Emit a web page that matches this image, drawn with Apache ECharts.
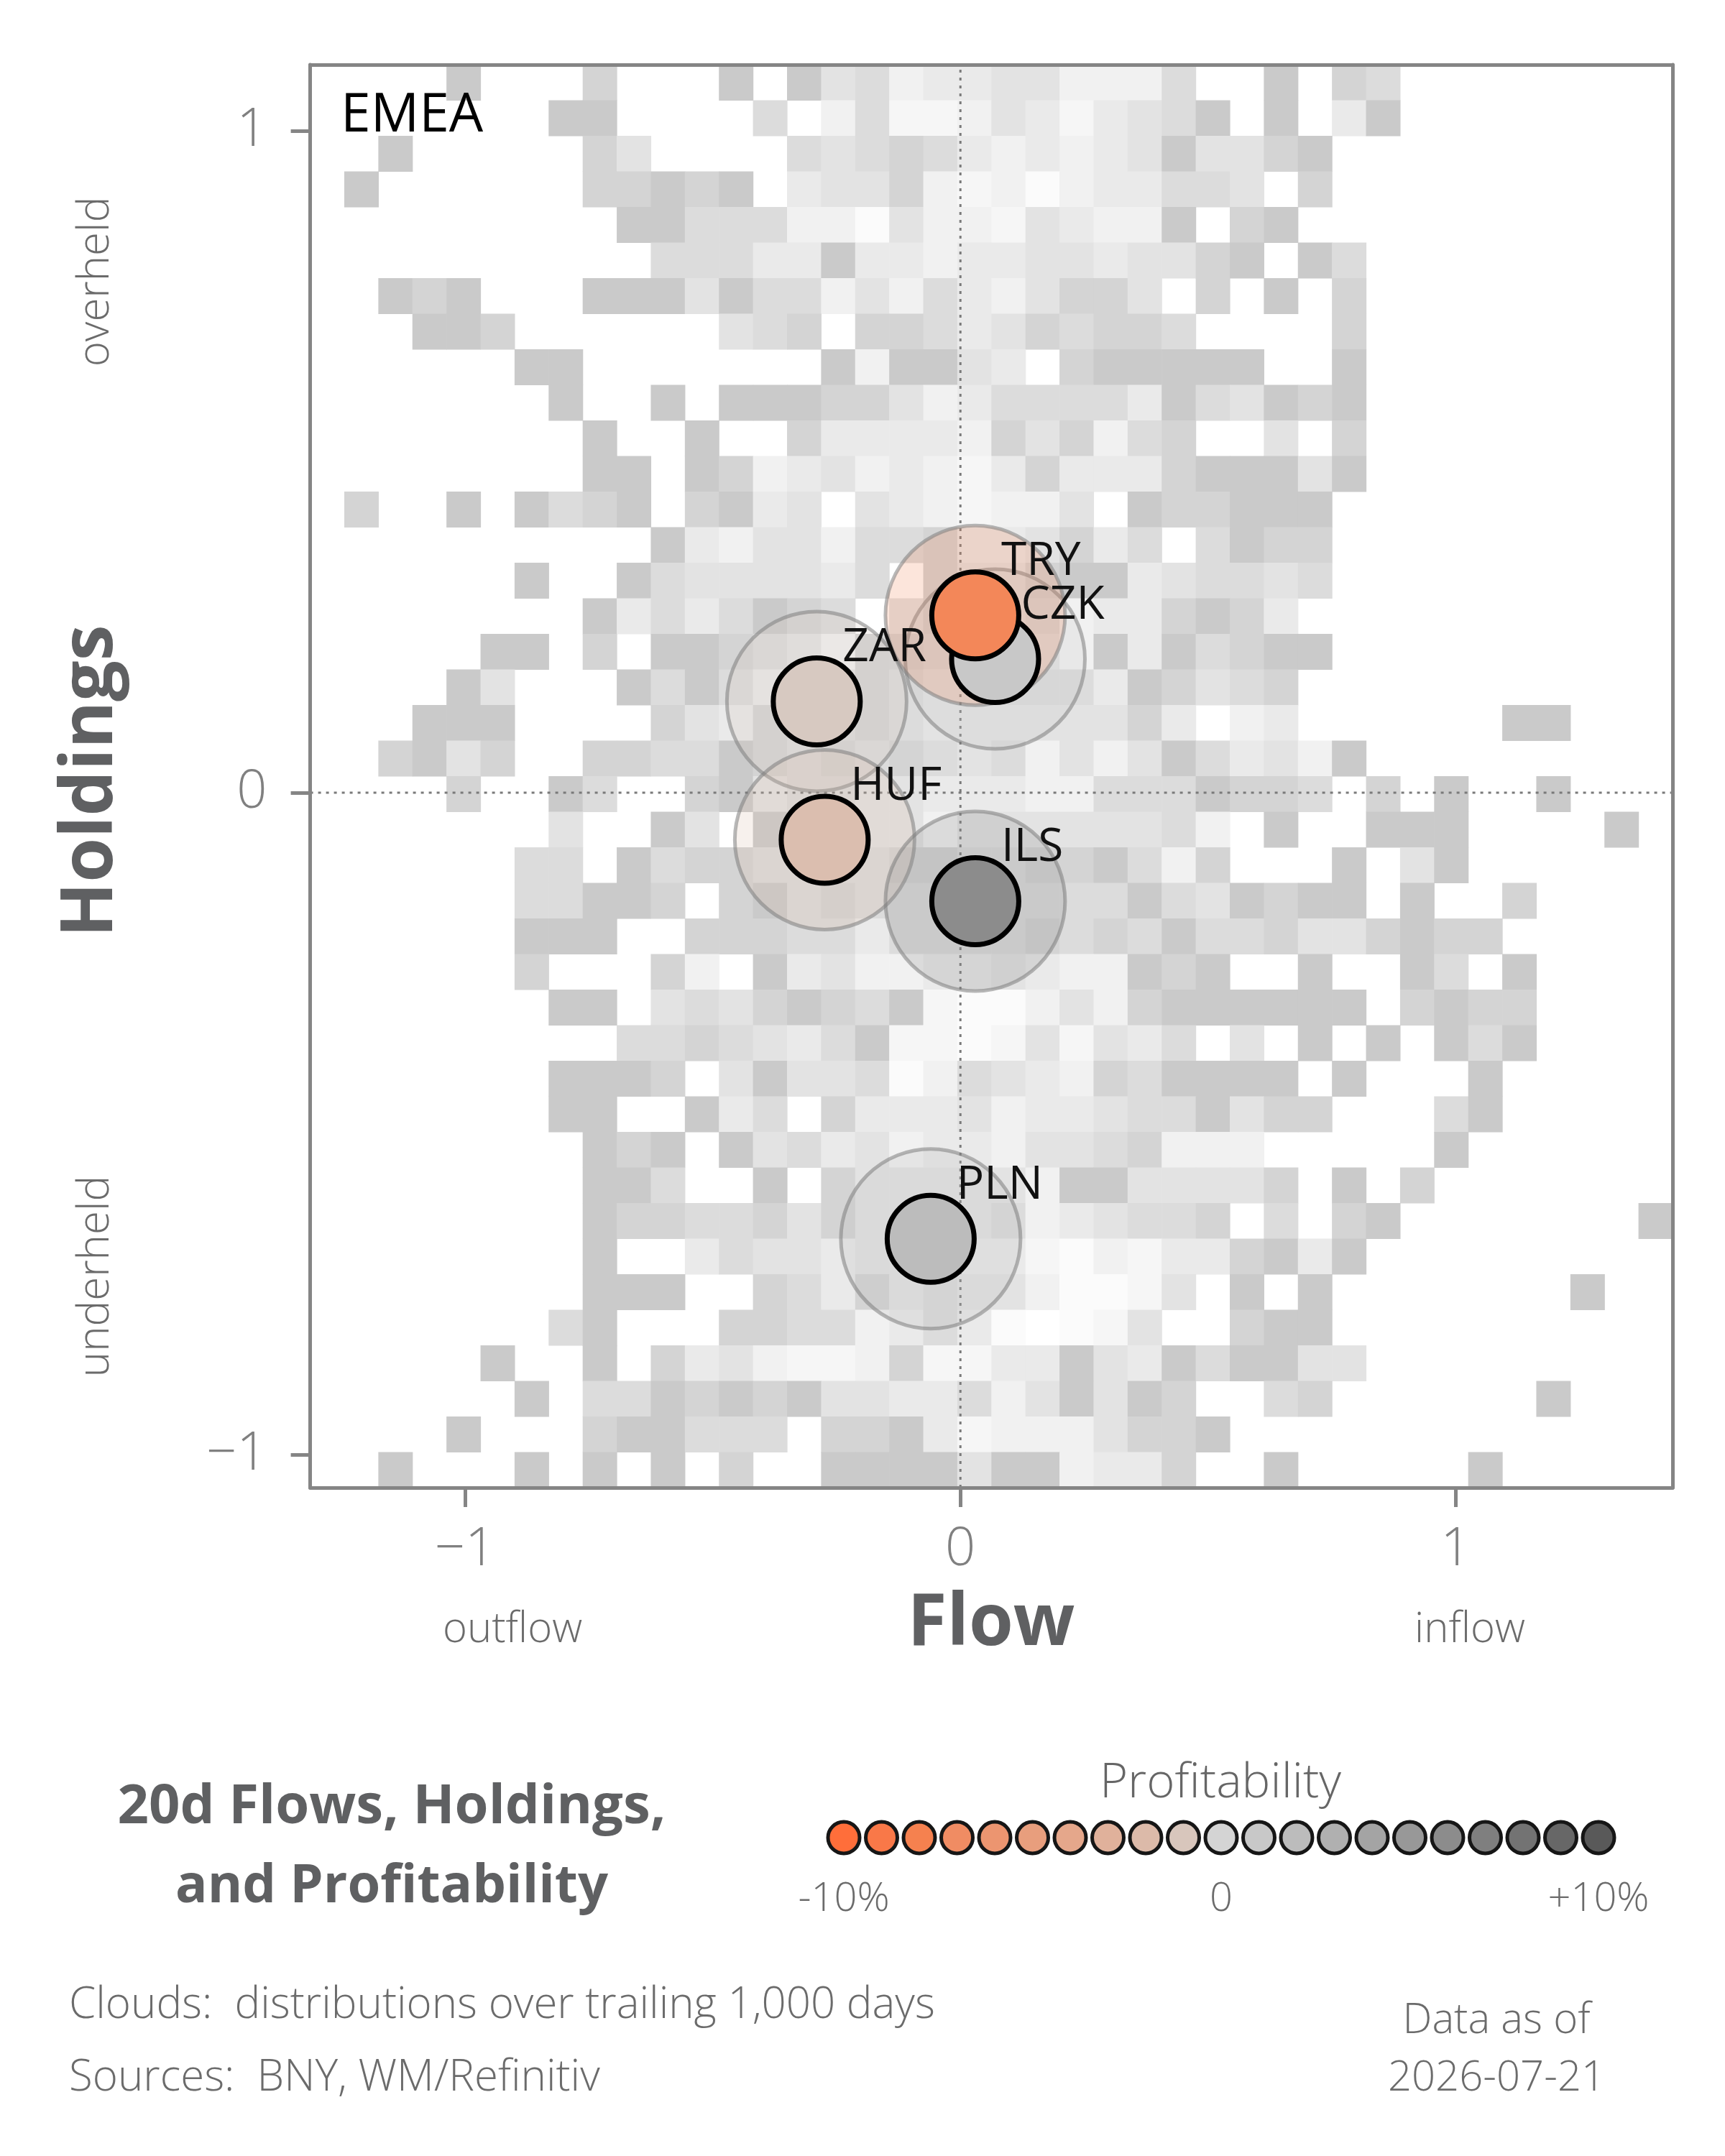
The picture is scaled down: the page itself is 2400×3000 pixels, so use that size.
<!DOCTYPE html>
<html>
<head>
<meta charset="utf-8">
<title>EMEA flows, holdings and profitability</title>
<script src="https://cdn.jsdelivr.net/npm/echarts@6/dist/echarts.min.js"></script>
<style>
  html, body { margin: 0; padding: 0; background: #fff; }
  #chart { width: 2400px; height: 3000px; }
</style>
</head>
<body>
<div id="chart"></div>
<script>
// currencies (drawn in this order, TRY last so it sits on top of CZK)
var currencies = ['ZAR', 'HUF', 'ILS', 'PLN', 'CZK', 'TRY'];
var flows      = [-0.290, -0.274, 0.030, -0.060, 0.070, 0.030];
var holdings   = [0.138, -0.071, -0.164, -0.674, 0.202, 0.268];
var profit     = [-0.8, -1.7, 6, 2, 1, -7.5];   // 20d profitability, %

// profitability legend
var profitSteps = [-10, -9, -8, -7, -6, -5, -4, -3, -2, -1, 0, 1, 2, 3, 4, 5, 6, 7, 8, 9, 10];

var flowTicks = [-1, 0, 1];
var holdingTicks = [-1, 0, 1];

// clouds: 40 x 40 bins over trailing 1,000 days, shade level per bin ('.' = empty)
var cloudFlowStart = -1.3125, cloudFlowStep = 0.06875;
var cloudHoldStart = 1.1, cloudHoldStep = 0.05375;
var cloudRows = [
  '....1...2. ..1.143655 446663..1. 23........',
  '.......11. ...3.63776 4575431.1. 51........',
  '..1.....24 ....343235 6565414421 ..........',
  '.1......22 121.544267 68655334.2 ..........',
  '.........1 1333668466 745661.21. ..........',
  '.......... 3335515565 54454421.1 3.........',
  '..121...11 1413364635 64224.2.1. 2.........',
  '...112.... ..432.2235 423223.... 2.........',
  '......11.. .....16114 5.211111.. 1.........',
  '.......1.. 1.11122465 3333513412 1.........',
  '........1. .1..255556 242632..4. 2.........',
  '........11 .126546567 5255521114 1.........',
  '.2..1.1321 .2154.4567 664.122111 ..........',
  '.......... 1564463325 54253.3122 ..........',
  '......1..1 3444453.24 4211543343 ..........',
  '........15 353123.424 436552125. ..........',
  '.....11.2. 1123462233 4461513211 ..........',
  '....14...1 3135442344 333512432. ..........',
  '...111.... 2452332344 444425.65. .....11...',
  '..2142..22 3312323234 3646413546 1.........',
  '....2..13. .214334455 5663331223 .2.1..1...',
  '.......4.. 14.1334464 4444436.1. .111....1.',
  '......33.1 3223333223 3221362... 1.41......',
  '......3311 2.21323333 3333134121 1.1..2....',
  '......111. .222335333 3232313324 42122.....',
  '......2... 26.1546655 4566121..1 ..13.1....',
  '.......11. 4342123178 8646211111 1.2122....',
  '.........3 3234531778 747453.4.1 .1.131....',
  '.......111 2.41443863 456231111. 1...1.....',
  '.......11. .153.25554 6554331422 ...31.....',
  '........12 1.14354655 64432666.. ...1......',
  '........11 3..1.24444 461144442. 1.2.......',
  '........12 2332424444 3654332.3. 21.......1',
  '........1. .534454445 5786755215 1.........',
  '........11 1..2352434 468874.1.1 .......1..',
  '.......31. ..22336535 8.874..211 ..........',
  '.....1..1. 2546776277 5514513114 4.........',
  '......1.33 1212144553 641412..32 ......1...',
  '....1...21 1333.22157 6664221... ..........',
  '..1...1.1. 1.2..11114 116552..1. ....1.....'
];

// styles
var shadeColors = ['#cacaca', '#d4d4d4', '#dcdcdc', '#e3e3e3', '#eaeaea', '#f1f1f1', '#f6f6f6', '#fbfbfb'];
var profitColors = ['#ff6e3a', '#f97848', '#f5814f', '#f08c63', '#ec9570', '#e89e7d', '#e5a78b', '#e0b19b',
  '#dcbaa9', '#d8c6bc', '#d4d4d4', '#c8c8c8', '#bcbcbc', '#b0b0b0', '#a4a4a4', '#989898', '#8c8c8c',
  '#7f7f7f', '#737373', '#676767', '#595959'];
var FONT = '"Open Sans", Lato, "Noto Sans", sans-serif';
var AXIS_GRAY = '#858585';

function hexToRgb(h) {
  return [parseInt(h.slice(1, 3), 16), parseInt(h.slice(3, 5), 16), parseInt(h.slice(5, 7), 16)];
}
function profitColor(p, alpha) {
  var t = Math.max(0, Math.min(profitSteps.length - 1, p - profitSteps[0]));
  var i = Math.min(Math.floor(t), profitSteps.length - 2), f = t - i;
  var a = hexToRgb(profitColors[i]), b = hexToRgb(profitColors[i + 1]);
  var c = a.map(function (v, k) { return Math.round(v + (b[k] - v) * f); });
  return 'rgba(' + c.join(',') + ',' + (alpha == null ? 1 : alpha) + ')';
}

// build cloud cells [x0, yTop, x1, yBottom, level]
var cloudData = [];
cloudRows.forEach(function (row, r) {
  var s = row.replace(/ /g, '');
  for (var c = 0; c < s.length; c++) {
    var lv = s.charAt(c);
    if (lv === '.') continue;
    var x0 = cloudFlowStart + c * cloudFlowStep;
    var y0 = cloudHoldStart - r * cloudHoldStep;
    cloudData.push([x0, y0, x0 + cloudFlowStep, y0 - cloudHoldStep, +lv]);
  }
});

var haloData = currencies.map(function (c, i) {
  return { name: c, value: [flows[i], holdings[i], profit[i]],
    itemStyle: { color: profitColor(profit[i], 0.22) } };
});
var dotData = currencies.map(function (c, i) {
  return { name: c, value: [flows[i], holdings[i], profit[i]],
    itemStyle: { color: profitColor(profit[i]) } };
});
var legendData = profitSteps.map(function (p) {
  return { value: [p, 0.5], itemStyle: { color: profitColor(p) } };
});

var X_MIN = -1.3125, X_MAX = 1.4375, Y_MIN = -1.05, Y_MAX = 1.1;

function minusFmt(v) { return v < 0 ? '\u2212' + Math.abs(v) : String(v); }

function txt(text, x, y, size, fill, extra) {
  var style = { text: text, fontSize: size, fill: fill, fontFamily: FONT, fontWeight: 300,
    align: 'center', verticalAlign: 'middle' };
  var el = { type: 'text', x: x, y: y, z: 20, style: style };
  if (extra) {
    Object.keys(extra).forEach(function (k) {
      if (k === 'rotation') el.rotation = extra[k]; else style[k] = extra[k];
    });
  }
  return el;
}

var chart = echarts.init(document.getElementById('chart'), null, { renderer: 'canvas' });

var option = {
  animation: false,
  backgroundColor: '#ffffff',
  textStyle: { fontFamily: FONT },
  grid: [
    { left: 431.6, top: 90, width: 1895.4, height: 1980 },
    { left: 1174, top: 2532, width: 1050, height: 50 }
  ],
  xAxis: [
    {
      type: 'value', gridIndex: 0, min: X_MIN, max: X_MAX, z: 10,
      axisLine: { show: true, onZero: false, lineStyle: { color: AXIS_GRAY, width: 5 } },
      axisTick: { show: true, length: 27, customValues: flowTicks, lineStyle: { color: AXIS_GRAY, width: 5 } },
      axisLabel: { customValues: flowTicks, formatter: minusFmt, fontSize: 74, color: '#808080',
        margin: 50, fontFamily: FONT, fontWeight: 300 },
      splitLine: { show: false }
    },
    {
      type: 'value', gridIndex: 0, position: 'top', min: X_MIN, max: X_MAX, z: 10,
      axisLine: { show: true, onZero: false, lineStyle: { color: AXIS_GRAY, width: 5 } },
      axisTick: { show: false }, axisLabel: { show: false }, splitLine: { show: false }
    },
    {
      type: 'value', gridIndex: 1, min: -10, max: 10, interval: 10,
      axisLine: { show: false }, axisTick: { show: false }, splitLine: { show: false },
      axisLabel: { fontSize: 56, color: '#6b6b6b', margin: 33, fontFamily: FONT, fontWeight: 300,
        formatter: function (v) { return v < 0 ? v + '%' : (v > 0 ? '+' + v + '%' : '0'); } }
    }
  ],
  yAxis: [
    {
      type: 'value', gridIndex: 0, min: Y_MIN, max: Y_MAX, z: 10,
      axisLine: { show: true, onZero: false, lineStyle: { color: AXIS_GRAY, width: 5 } },
      axisTick: { show: true, length: 27, customValues: holdingTicks, lineStyle: { color: AXIS_GRAY, width: 5 } },
      axisLabel: { customValues: holdingTicks, formatter: minusFmt, fontSize: 74, color: '#808080',
        margin: 60, fontFamily: FONT, fontWeight: 300 },
      splitLine: { show: false }
    },
    {
      type: 'value', gridIndex: 0, position: 'right', min: Y_MIN, max: Y_MAX, z: 10,
      axisLine: { show: true, onZero: false, lineStyle: { color: AXIS_GRAY, width: 5 } },
      axisTick: { show: false }, axisLabel: { show: false }, splitLine: { show: false }
    },
    { type: 'value', gridIndex: 1, min: 0, max: 1, show: false }
  ],
  series: [
    {
      name: 'clouds', type: 'custom', xAxisIndex: 0, yAxisIndex: 0, z: 1, silent: true,
      encode: { x: [0, 2], y: [1, 3] },
      data: cloudData,
      renderItem: function (params, api) {
        var p0 = api.coord([api.value(0), api.value(1)]);
        var p1 = api.coord([api.value(2), api.value(3)]);
        return {
          type: 'rect',
          shape: { x: p0[0], y: p0[1], width: p1[0] - p0[0] + 0.6, height: p1[1] - p0[1] + 0.6 },
          style: { fill: shadeColors[api.value(4) - 1] }
        };
      }
    },
    {
      name: 'zero flow', type: 'line', xAxisIndex: 0, yAxisIndex: 0, z: 2, silent: true,
      symbol: 'none', data: [[0, Y_MIN], [0, Y_MAX]],
      lineStyle: { color: '#7a7a7a', width: 3, type: [4, 7] }
    },
    {
      name: 'zero holdings', type: 'line', xAxisIndex: 0, yAxisIndex: 0, z: 2, silent: true,
      symbol: 'none', data: [[X_MIN, 0], [X_MAX, 0]],
      lineStyle: { color: '#7a7a7a', width: 3, type: [4, 7] }
    },
    {
      name: 'halo', type: 'scatter', xAxisIndex: 0, yAxisIndex: 0, z: 3, silent: true,
      symbolSize: 250, data: haloData,
      itemStyle: { borderColor: 'rgba(125,125,125,0.55)', borderWidth: 5, opacity: 1 }
    },
    {
      name: 'currency', type: 'scatter', xAxisIndex: 0, yAxisIndex: 0, z: 4, silent: true,
      symbolSize: 121, data: dotData,
      itemStyle: { borderColor: '#000000', borderWidth: 7, opacity: 1 },
      label: {
        show: true, formatter: '{b}', position: ['50%', '50%'], align: 'left', verticalAlign: 'bottom',
        offset: [36, -42], fontSize: 64, color: '#111111', fontFamily: FONT, fontWeight: 400
      }
    },
    {
      name: 'legend', type: 'scatter', xAxisIndex: 2, yAxisIndex: 2, silent: true,
      symbolSize: 44, data: legendData,
      itemStyle: { borderColor: '#161616', borderWidth: 5, opacity: 1 }
    }
  ],
  graphic: [
    txt('EMEA', 474, 162, 75, '#000000', { align: 'left', fontWeight: 400 }),
    txt('Holdings', 128, 1087, 100, '#5f6062', { rotation: Math.PI / 2, fontWeight: 'bold' }),
    txt('overheld', 134, 392, 60, '#6b6b6b', { rotation: Math.PI / 2 }),
    txt('underheld', 134, 1776, 60, '#6b6b6b', { rotation: Math.PI / 2 }),
    txt('Flow', 1379, 2261, 100, '#5f6062', { fontWeight: 'bold' }),
    txt('outflow', 713, 2268, 58, '#6b6b6b'),
    txt('inflow', 2045, 2268, 58, '#6b6b6b'),
    txt('20d Flows, Holdings,', 545, 2515, 76, '#5f6062', { fontWeight: 'bold' }),
    txt('and Profitability', 545, 2626, 74, '#5f6062', { fontWeight: 'bold' }),
    txt('Profitability', 1698, 2482, 67, '#666666'),
    txt('Clouds:  distributions over trailing 1,000 days', 96, 2791, 60, '#6b6b6b', { align: 'left' }),
    txt('Sources:  BNY, WM/Refinitiv', 96, 2892, 60, '#6b6b6b', { align: 'left' }),
    txt('Data as of', 2082, 2812, 58, '#6b6b6b'),
    txt('2026-07-21', 2082, 2892, 58, '#6b6b6b')
  ]
};

chart.setOption(option);
</script>
</body>
</html>
